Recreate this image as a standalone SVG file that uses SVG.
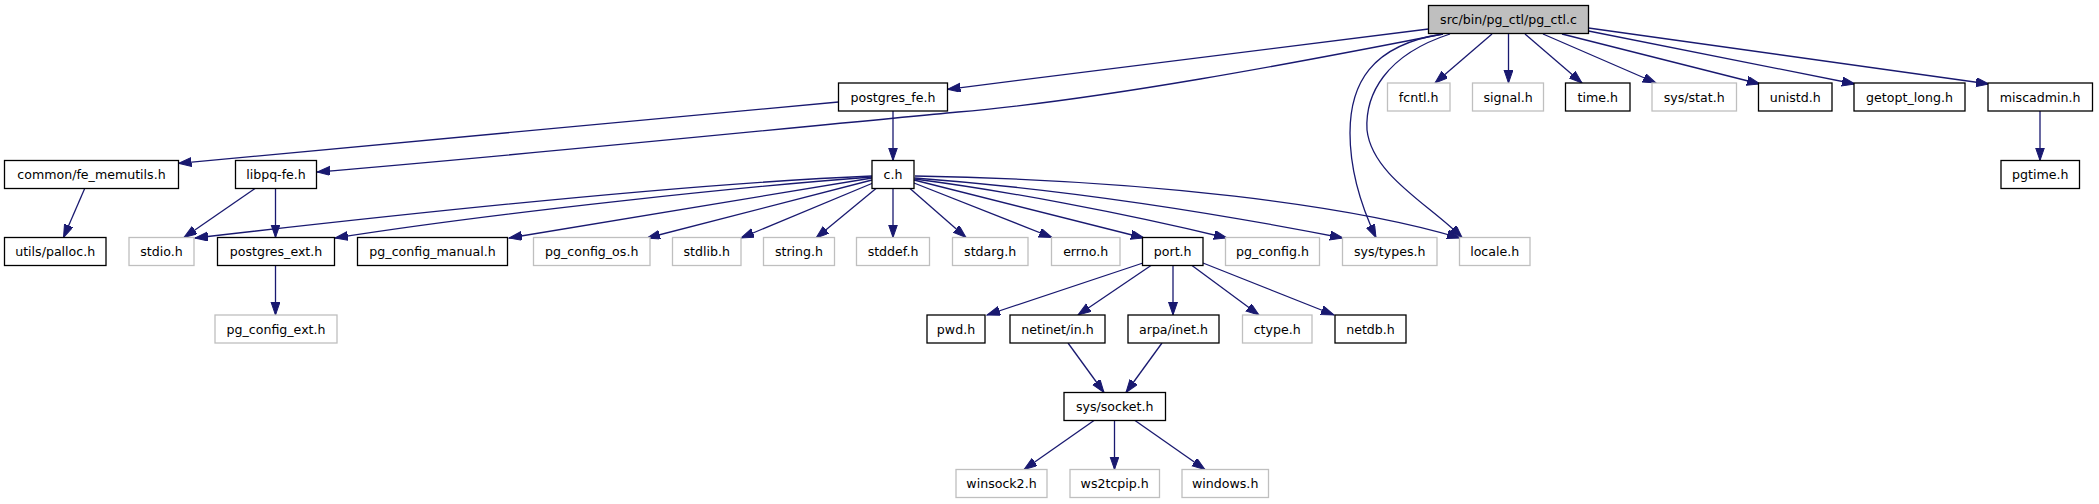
<svg xmlns="http://www.w3.org/2000/svg" width="2099" height="504" viewBox="0 0 2099 504">
<style>
.n rect{fill:#fff;stroke:#000;stroke-width:1.3}
.g rect{fill:#fff;stroke:#bfbfbf;stroke-width:1.3}
.r rect{fill:#bfbfbf;stroke:#000;stroke-width:1.3}
text{font-family:"DejaVu Sans","Liberation Sans",sans-serif;font-size:12.6px;fill:#000;text-anchor:middle}
#edges path{fill:none;stroke:#191970;stroke-width:1.3;marker-end:url(#arr)}
</style>
<defs>
<marker id="arr" markerUnits="userSpaceOnUse" markerWidth="14" markerHeight="10" refX="13" refY="4.5" orient="auto">
<path d="M0,0 L13,4.5 L0,9 z" fill="#191970" stroke="#191970" stroke-width="1"/>
</marker>
</defs>
<rect width="2099" height="504" fill="#fff"/>
<g id="edges">
<path d="M1428.5,29 L947.5,89.3"/>
<path d="M1443,34 C1300,62 1100,100 958,112 C800,127 500,157 317,172"/>
<path d="M1443,34 C1370,45 1350,85 1350,133 C1350,175 1363,210 1376,237.5"/>
<path d="M1450,34 C1385,55 1365,95 1367,130 C1372,175 1430,205 1462,237.5"/>
<path d="M1492,34 L1435,83"/>
<path d="M1508.5,34 L1508.5,83"/>
<path d="M1525,34 L1582,83"/>
<path d="M1543,34 L1656,83"/>
<path d="M1562,34 L1760,84"/>
<path d="M1588.5,31 L1855,84"/>
<path d="M1588.5,28 L1989,84"/>
<path d="M838.5,102 L178.5,163.3"/>
<path d="M893,111 L893,160.5"/>
<path d="M84.7,188.5 L63.5,237.5"/>
<path d="M255,188.5 L184,237.5"/>
<path d="M275.5,188.5 L275.5,237.5"/>
<path d="M275.5,265.5 L275.5,315"/>
<path d="M2040,111 L2040,160.5"/>
<path d="M872,176 C700,183 420,212 195,238"/>
<path d="M872,177 C750,186 500,212 335,238"/>
<path d="M872,178 L509,238"/>
<path d="M872,180 L647,238"/>
<path d="M873,183 L741,238"/>
<path d="M876,188.5 L816,238"/>
<path d="M893,188.5 L893,237.5"/>
<path d="M910,188.5 L966,237.5"/>
<path d="M914,183 L1052,237.5"/>
<path d="M914,180 L1144,238"/>
<path d="M914.5,179 C1000,190 1120,212 1227,238"/>
<path d="M914.5,178 C1050,188 1200,210 1343,238"/>
<path d="M915,176 C1150,180 1350,205 1460,238"/>
<path d="M1143,263 L987,315"/>
<path d="M1151,265.5 L1078,315"/>
<path d="M1173,265.5 L1173,315"/>
<path d="M1192,265.5 L1259,315"/>
<path d="M1203,263 L1334,315"/>
<path d="M1068,343 L1104,392.5"/>
<path d="M1162,343 L1126,392.5"/>
<path d="M1094,420.5 L1024,469.5"/>
<path d="M1114.5,420.5 L1114.5,469.5"/>
<path d="M1135,420.5 L1205,469.5"/>
</g>
<g id="root" class="r"><rect x="1428.5" y="5.5" width="160" height="28"/><text x="1508.5" y="24">src/bin/pg_ctl/pg_ctl.c</text></g>
<g id="postgres_fe" class="n"><rect x="838.5" y="83" width="109" height="28"/><text x="893" y="101.5">postgres_fe.h</text></g>
<g id="fcntl" class="g"><rect x="1387.5" y="83" width="62.5" height="28"/><text x="1418.7" y="101.5">fcntl.h</text></g>
<g id="signal" class="g"><rect x="1472.5" y="83" width="71" height="28"/><text x="1508" y="101.5">signal.h</text></g>
<g id="time" class="n"><rect x="1565.5" y="83" width="64.5" height="28"/><text x="1597.7" y="101.5">time.h</text></g>
<g id="sys_stat" class="g"><rect x="1652" y="83" width="84.5" height="28"/><text x="1694.2" y="101.5">sys/stat.h</text></g>
<g id="unistd" class="n"><rect x="1758.5" y="83" width="73.5" height="28"/><text x="1795.2" y="101.5">unistd.h</text></g>
<g id="getopt_long" class="n"><rect x="1854" y="83" width="111" height="28"/><text x="1909.5" y="101.5">getopt_long.h</text></g>
<g id="miscadmin" class="n"><rect x="1988" y="83" width="104.5" height="28"/><text x="2040.2" y="101.5">miscadmin.h</text></g>
<g id="fe_memutils" class="n"><rect x="4.5" y="160.5" width="174" height="28"/><text x="91.5" y="179">common/fe_memutils.h</text></g>
<g id="libpq_fe" class="n"><rect x="235.5" y="160.5" width="81" height="28"/><text x="276" y="179">libpq-fe.h</text></g>
<g id="c_h" class="n"><rect x="872" y="160.5" width="42" height="28"/><text x="893" y="179">c.h</text></g>
<g id="pgtime" class="n"><rect x="2001" y="160.5" width="78.5" height="28"/><text x="2040.2" y="179">pgtime.h</text></g>
<g id="palloc" class="n"><rect x="4.5" y="237.5" width="101.5" height="28"/><text x="55.2" y="256">utils/palloc.h</text></g>
<g id="stdio" class="g"><rect x="129" y="237.5" width="65" height="28"/><text x="161.5" y="256">stdio.h</text></g>
<g id="postgres_ext" class="n"><rect x="217.5" y="237.5" width="117" height="28"/><text x="276" y="256">postgres_ext.h</text></g>
<g id="pg_config_manual" class="n"><rect x="357.5" y="237.5" width="150" height="28"/><text x="432.5" y="256">pg_config_manual.h</text></g>
<g id="pg_config_os" class="g"><rect x="533.5" y="237.5" width="116.5" height="28"/><text x="591.7" y="256">pg_config_os.h</text></g>
<g id="stdlib" class="g"><rect x="672.5" y="237.5" width="68.5" height="28"/><text x="706.7" y="256">stdlib.h</text></g>
<g id="string" class="g"><rect x="763.5" y="237.5" width="71" height="28"/><text x="799" y="256">string.h</text></g>
<g id="stddef" class="g"><rect x="856.5" y="237.5" width="73" height="28"/><text x="893" y="256">stddef.h</text></g>
<g id="stdarg" class="g"><rect x="952.5" y="237.5" width="75.5" height="28"/><text x="990.2" y="256">stdarg.h</text></g>
<g id="errno" class="g"><rect x="1051.5" y="237.5" width="68.5" height="28"/><text x="1085.7" y="256">errno.h</text></g>
<g id="port" class="n"><rect x="1142.5" y="237.5" width="60.5" height="28"/><text x="1172.7" y="256">port.h</text></g>
<g id="pg_config" class="g"><rect x="1225.5" y="237.5" width="94" height="28"/><text x="1272.5" y="256">pg_config.h</text></g>
<g id="sys_types" class="g"><rect x="1342.5" y="237.5" width="94.5" height="28"/><text x="1389.7" y="256">sys/types.h</text></g>
<g id="locale" class="g"><rect x="1459.5" y="237.5" width="70.5" height="28"/><text x="1494.7" y="256">locale.h</text></g>
<g id="pg_config_ext" class="g"><rect x="215" y="315" width="122" height="28"/><text x="276" y="333.5">pg_config_ext.h</text></g>
<g id="pwd" class="n"><rect x="927" y="315" width="58" height="28"/><text x="956" y="333.5">pwd.h</text></g>
<g id="netinet_in" class="n"><rect x="1010" y="315" width="95" height="28"/><text x="1057.5" y="333.5">netinet/in.h</text></g>
<g id="arpa_inet" class="n"><rect x="1128" y="315" width="91" height="28"/><text x="1173.5" y="333.5">arpa/inet.h</text></g>
<g id="ctype" class="g"><rect x="1242.5" y="315" width="69.5" height="28"/><text x="1277.2" y="333.5">ctype.h</text></g>
<g id="netdb" class="n"><rect x="1335" y="315" width="71" height="28"/><text x="1370.5" y="333.5">netdb.h</text></g>
<g id="sys_socket" class="n"><rect x="1064" y="392.5" width="101.5" height="28"/><text x="1114.7" y="411">sys/socket.h</text></g>
<g id="winsock2" class="g"><rect x="956" y="469.5" width="91" height="28"/><text x="1001.5" y="488">winsock2.h</text></g>
<g id="ws2tcpip" class="g"><rect x="1070" y="469.5" width="89.5" height="28"/><text x="1114.7" y="488">ws2tcpip.h</text></g>
<g id="windows" class="g"><rect x="1182" y="469.5" width="86.5" height="28"/><text x="1225.2" y="488">windows.h</text></g>
</svg>
